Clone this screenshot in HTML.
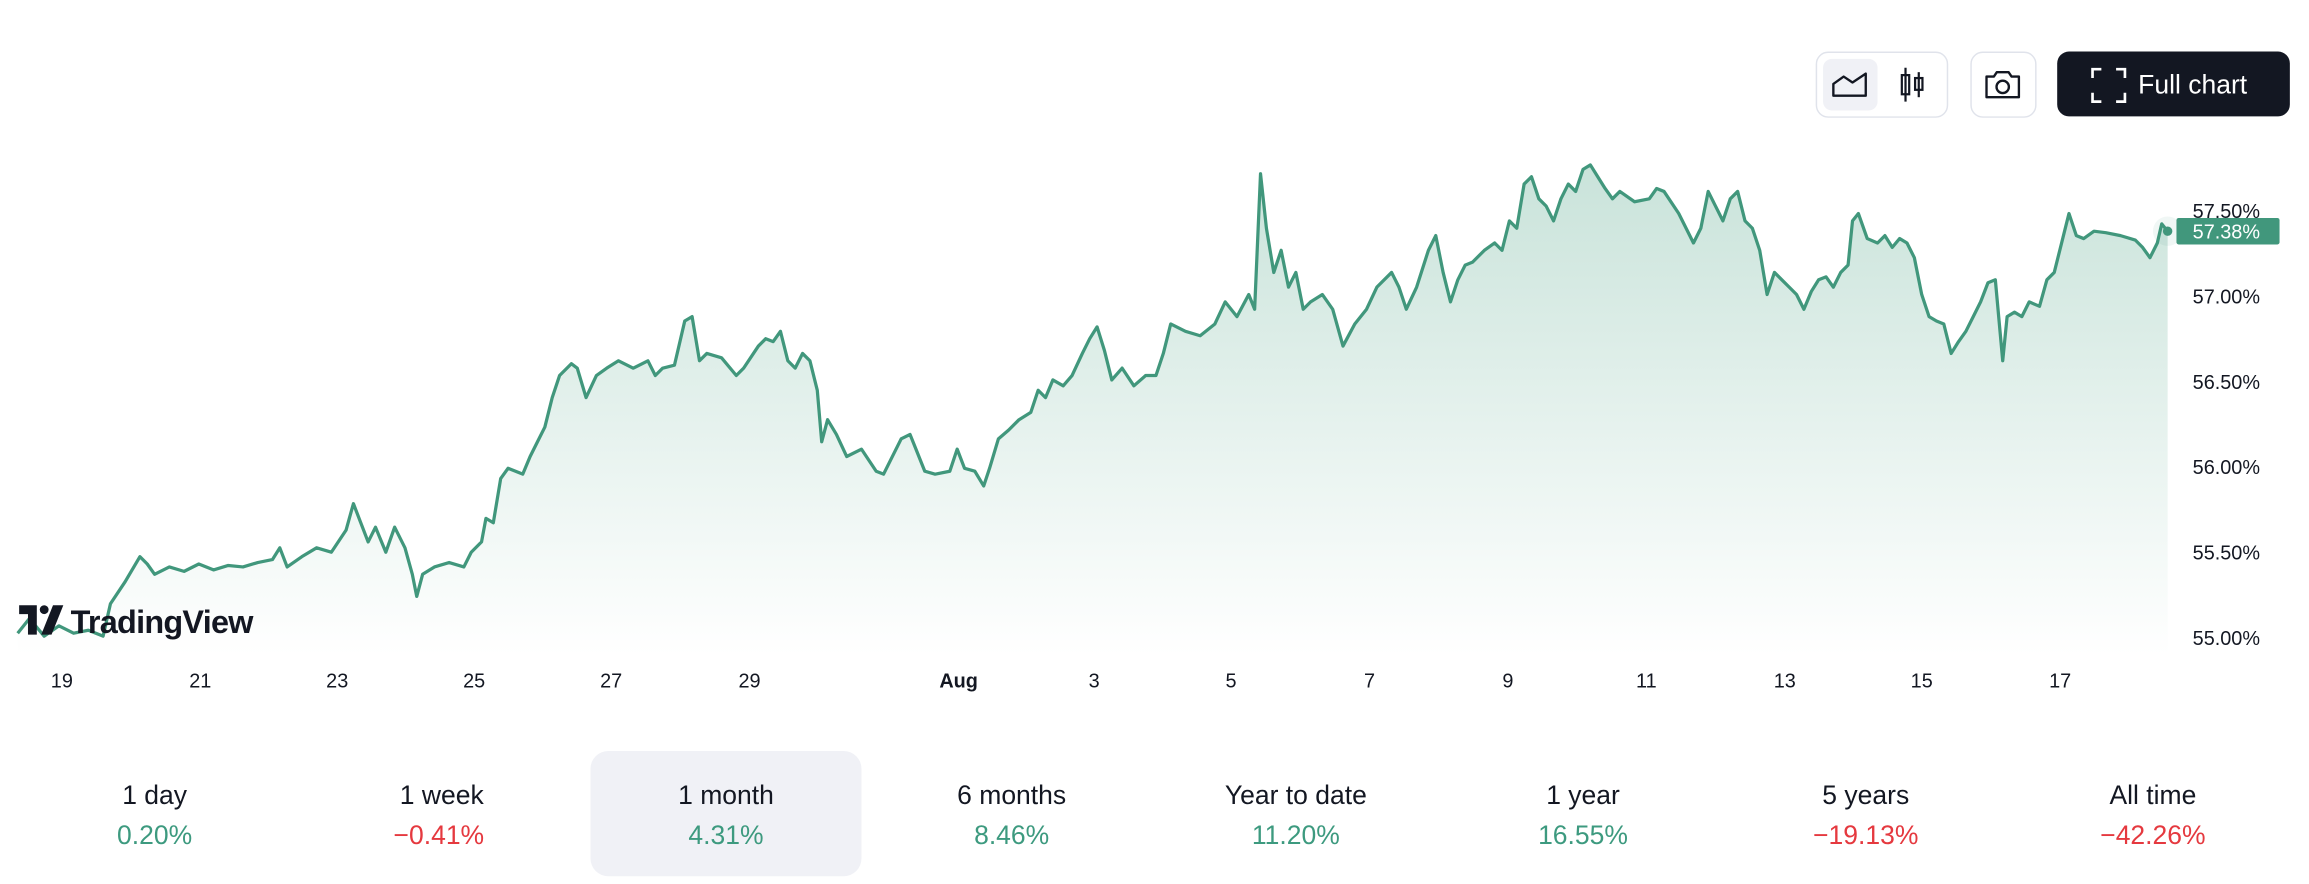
<!DOCTYPE html>
<html><head><meta charset="utf-8"><style>
html,body{margin:0;padding:0;background:#fff;}
svg{display:block;font-family:"Liberation Sans",sans-serif;}
</style></head><body>
<svg width="2309" height="884" viewBox="0 0 1568 600.3" xmlns="http://www.w3.org/2000/svg">
<defs>
<linearGradient id="g" x1="0" y1="0" x2="0" y2="1">
<stop offset="0" stop-color="#c9e3da"/>
<stop offset="1" stop-color="#ffffff"/>
</linearGradient>
</defs>
<!-- top buttons -->
<rect x="1233.5" y="35.5" width="89" height="44" rx="8" fill="#fff" stroke="#e0e3eb"/>
<rect x="1238" y="40" width="37" height="35" rx="6" fill="#f0f1f6"/>
<path d="M1245 65 V57 L1252 52 L1258 56 L1267 50 V65 Z" fill="none" stroke="#131722" stroke-width="1.6" stroke-linejoin="round"/>
<g stroke="#131722" stroke-width="1.5" fill="none">
<line x1="1294" y1="46" x2="1294" y2="69"/><rect x="1291.5" y="51" width="5" height="13"/>
<line x1="1303" y1="49" x2="1303" y2="66"/><rect x="1300.5" y="53" width="5" height="8"/>
</g>
<rect x="1338.5" y="35.5" width="44" height="44" rx="8" fill="#fff" stroke="#e0e3eb"/>
<path d="M1349 52 h5 l2 -3 h8 l2 3 h5 v14 h-22 Z" fill="none" stroke="#131722" stroke-width="1.6" stroke-linejoin="round"/>
<circle cx="1360" cy="59" r="4.2" fill="none" stroke="#131722" stroke-width="1.6"/>
<rect x="1397" y="35" width="158" height="44" rx="8" fill="#131722"/>
<path d="M1421 53 v-6 h6 M1437 47 h6 v6 M1443 63 v6 h-6 M1427 69 h-6 v-6" fill="none" stroke="#fff" stroke-width="1.8"/>
<text x="1452" y="63.5" font-size="18" fill="#fff">Full chart</text>
<!-- area -->
<path id="p" d="M12,430 L20,420 L30,432 L40,425 L50,430 L60,428 L70,432 L75,410 L85,395 L95,378 L100,383 L105,390 L115,385 L125,388 L135,383 L145,387 L155,384 L165,385 L175,382 L185,380 L190,372 L195,385 L205,378 L215,372 L225,375 L235,360 L240,342 L245,355 L250,368 L255,358 L262,375 L268,358 L275,372 L280,390 L283,405 L287,390 L295,385 L305,382 L315,385 L320,375 L327,368 L330,352 L335,355 L340,325 L345,318 L355,322 L360,310 L365,300 L370,290 L375,270 L380,255 L388,247 L392,250 L398,270 L405,255 L412,250 L420,245 L430,250 L440,245 L445,255 L450,250 L458,248 L465,218 L470,215 L475,245 L480,240 L490,243 L500,255 L505,250 L515,235 L520,230 L525,232 L530,225 L535,245 L540,250 L545,240 L550,245 L555,265 L558,300 L562,285 L568,295 L575,310 L585,305 L595,320 L600,322 L605,312 L612,298 L618,295 L622,305 L628,320 L635,322 L645,320 L650,305 L655,318 L662,320 L668,330 L672,318 L678,298 L685,292 L692,285 L700,280 L705,265 L710,270 L715,258 L722,262 L728,255 L735,240 L740,230 L745,222 L750,238 L755,258 L762,250 L770,262 L778,255 L785,255 L790,240 L795,220 L805,225 L815,228 L825,220 L832,205 L840,215 L848,200 L852,210 L856,118 L860,155 L865,185 L870,170 L875,195 L880,185 L885,210 L890,205 L898,200 L905,210 L912,235 L920,220 L928,210 L935,195 L945,185 L950,195 L955,210 L962,195 L970,170 L975,160 L980,185 L985,205 L990,190 L995,180 L1000,178 L1008,170 L1015,165 L1020,170 L1025,150 L1030,155 L1035,125 L1040,120 L1045,135 L1050,140 L1055,150 L1060,135 L1065,125 L1070,130 L1075,115 L1080,112 L1085,120 L1090,128 L1095,135 L1100,130 L1110,137 L1120,135 L1125,128 L1130,130 L1140,145 L1145,155 L1150,165 L1155,155 L1160,130 L1165,140 L1170,150 L1175,135 L1180,130 L1185,150 L1190,155 L1195,170 L1200,200 L1205,185 L1210,190 L1215,195 L1220,200 L1225,210 L1230,198 L1235,190 L1240,188 L1245,195 L1250,185 L1255,180 L1258,150 L1262,145 L1268,162 L1275,165 L1280,160 L1285,168 L1290,162 L1295,165 L1300,175 L1305,200 L1310,215 L1315,218 L1320,220 L1325,240 L1330,232 L1335,225 L1340,215 L1345,205 L1350,192 L1355,190 L1360,245 L1363,215 L1368,212 L1373,215 L1378,205 L1385,208 L1390,190 L1395,185 L1400,165 L1405,145 L1410,160 L1415,162 L1422,157 L1430,158 L1440,160 L1450,163 L1455,168 L1460,175 L1465,165 L1468,152 L1472,157" fill="none"/>
<path d="M12,430 L20,420 L30,432 L40,425 L50,430 L60,428 L70,432 L75,410 L85,395 L95,378 L100,383 L105,390 L115,385 L125,388 L135,383 L145,387 L155,384 L165,385 L175,382 L185,380 L190,372 L195,385 L205,378 L215,372 L225,375 L235,360 L240,342 L245,355 L250,368 L255,358 L262,375 L268,358 L275,372 L280,390 L283,405 L287,390 L295,385 L305,382 L315,385 L320,375 L327,368 L330,352 L335,355 L340,325 L345,318 L355,322 L360,310 L365,300 L370,290 L375,270 L380,255 L388,247 L392,250 L398,270 L405,255 L412,250 L420,245 L430,250 L440,245 L445,255 L450,250 L458,248 L465,218 L470,215 L475,245 L480,240 L490,243 L500,255 L505,250 L515,235 L520,230 L525,232 L530,225 L535,245 L540,250 L545,240 L550,245 L555,265 L558,300 L562,285 L568,295 L575,310 L585,305 L595,320 L600,322 L605,312 L612,298 L618,295 L622,305 L628,320 L635,322 L645,320 L650,305 L655,318 L662,320 L668,330 L672,318 L678,298 L685,292 L692,285 L700,280 L705,265 L710,270 L715,258 L722,262 L728,255 L735,240 L740,230 L745,222 L750,238 L755,258 L762,250 L770,262 L778,255 L785,255 L790,240 L795,220 L805,225 L815,228 L825,220 L832,205 L840,215 L848,200 L852,210 L856,118 L860,155 L865,185 L870,170 L875,195 L880,185 L885,210 L890,205 L898,200 L905,210 L912,235 L920,220 L928,210 L935,195 L945,185 L950,195 L955,210 L962,195 L970,170 L975,160 L980,185 L985,205 L990,190 L995,180 L1000,178 L1008,170 L1015,165 L1020,170 L1025,150 L1030,155 L1035,125 L1040,120 L1045,135 L1050,140 L1055,150 L1060,135 L1065,125 L1070,130 L1075,115 L1080,112 L1085,120 L1090,128 L1095,135 L1100,130 L1110,137 L1120,135 L1125,128 L1130,130 L1140,145 L1145,155 L1150,165 L1155,155 L1160,130 L1165,140 L1170,150 L1175,135 L1180,130 L1185,150 L1190,155 L1195,170 L1200,200 L1205,185 L1210,190 L1215,195 L1220,200 L1225,210 L1230,198 L1235,190 L1240,188 L1245,195 L1250,185 L1255,180 L1258,150 L1262,145 L1268,162 L1275,165 L1280,160 L1285,168 L1290,162 L1295,165 L1300,175 L1305,200 L1310,215 L1315,218 L1320,220 L1325,240 L1330,232 L1335,225 L1340,215 L1345,205 L1350,192 L1355,190 L1360,245 L1363,215 L1368,212 L1373,215 L1378,205 L1385,208 L1390,190 L1395,185 L1400,165 L1405,145 L1410,160 L1415,162 L1422,157 L1430,158 L1440,160 L1450,163 L1455,168 L1460,175 L1465,165 L1468,152 L1472,157 L1472,445 L12,445 Z" fill="url(#g)"/>
<use href="#p" stroke="#41977c" stroke-width="2.2" stroke-linejoin="round"/>
<circle cx="1472" cy="157" r="10" fill="#41977c" opacity="0.08"/>
<circle cx="1472" cy="157" r="3.2" fill="#41977c"/>
<!-- logo -->
<g fill="#131722">
<path d="M13 411 h12 v20 h-6 v-14 h-6 Z"/>
<circle cx="30" cy="414" r="3"/>
<path d="M36 411 h7 l-8 20 h-7 Z"/>
</g>
<text x="48" y="430" font-size="22" font-weight="bold" fill="#131722" letter-spacing="-0.5">TradingView</text>
<!-- y axis -->
<g font-size="13.5" fill="#131722">
<text x="1489" y="148">57.50%</text>
<text x="1489" y="206">57.00%</text>
<text x="1489" y="264">56.50%</text>
<text x="1489" y="322">56.00%</text>
<text x="1489" y="380">55.50%</text>
<text x="1489" y="438">55.00%</text>
</g>
<rect x="1478" y="148" width="70" height="18" rx="1.5" fill="#41977c"/>
<text x="1489" y="162" font-size="13.5" fill="#fff">57.38%</text>
<!-- x axis -->
<g font-size="13.5" fill="#131722" text-anchor="middle">
<text x="42" y="467">19</text><text x="136" y="467">21</text><text x="229" y="467">23</text>
<text x="322" y="467">25</text><text x="415" y="467">27</text><text x="509" y="467">29</text>
<text x="651" y="467" font-weight="bold">Aug</text><text x="743" y="467">3</text><text x="836" y="467">5</text>
<text x="930" y="467">7</text><text x="1024" y="467">9</text><text x="1118" y="467">11</text>
<text x="1212" y="467">13</text><text x="1305" y="467">15</text><text x="1399" y="467">17</text>
</g>
<!-- tabs -->
<rect x="401" y="510" width="184" height="85" rx="12" fill="#f0f1f6"/>
<g font-size="18" text-anchor="middle">
<g fill="#131722">
<text x="105" y="546">1 day</text><text x="300" y="546">1 week</text><text x="493" y="546">1 month</text>
<text x="687" y="546">6 months</text><text x="880" y="546">Year to date</text><text x="1075" y="546">1 year</text>
<text x="1267" y="546">5 years</text><text x="1462" y="546">All time</text>
</g>
<text x="105" y="573" fill="#3d9a7f">0.20%</text>
<text x="298" y="573" fill="#e5393f">−0.41%</text>
<text x="493" y="573" fill="#3d9a7f">4.31%</text>
<text x="687" y="573" fill="#3d9a7f">8.46%</text>
<text x="880" y="573" fill="#3d9a7f">11.20%</text>
<text x="1075" y="573" fill="#3d9a7f">16.55%</text>
<text x="1267" y="573" fill="#e5393f">−19.13%</text>
<text x="1462" y="573" fill="#e5393f">−42.26%</text>
</g>
</svg>
</body></html>
